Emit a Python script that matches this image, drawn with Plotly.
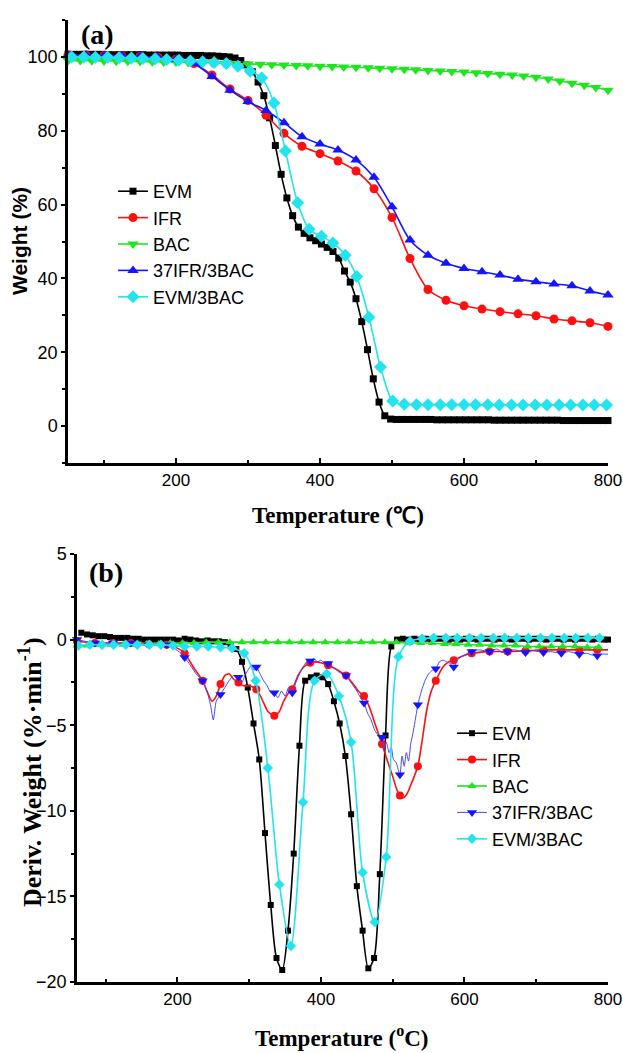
import plotly.graph_objects as go

# ---------------- (a) TGA: weight (%) vs temperature ----------------
evm_tga_T = [50, 58, 66, 74, 82, 90, 98, 106, 114, 122, 130, 138, 146, 154, 162, 170, 178, 186, 194,
             202, 210, 218, 226, 234, 242, 250, 258, 266, 274, 282, 290, 298, 306, 314, 322, 330, 338,
             346, 354, 362, 370, 378, 386, 394, 402, 410, 418, 426, 434, 442, 450, 458, 466, 474, 482,
             490, 498, 506, 514, 522, 530, 538, 546, 554, 562, 570, 578, 586, 594, 602, 610, 618, 626,
             634, 642, 650, 658, 666, 674, 682, 690, 698, 706, 714, 722, 730, 738, 746, 754, 762, 770,
             778, 786, 794, 800]
evm_tga_W = [100.7, 100.7, 100.7, 100.7, 100.7, 100.7, 100.7, 100.6, 100.6, 100.6, 100.6, 100.6, 100.6,
             100.6, 100.5, 100.5, 100.5, 100.5, 100.5, 100.5, 100.4, 100.4, 100.4, 100.4, 100.3, 100.3,
             100.2, 100.1, 100.0, 99.7, 99.0, 97.8, 96.0, 93.2, 89.5, 83.5, 76.0, 68.2, 61.8, 57.0, 53.9,
             52.2, 51.0, 50.2, 49.3, 48.4, 47.3, 45.5, 42.0, 39.0, 34.5, 28.3, 20.7, 12.8, 6.5, 2.8, 1.9,
             1.8, 1.8, 1.8, 1.8, 1.8, 1.8, 1.8, 1.7, 1.7, 1.7, 1.7, 1.7, 1.7, 1.7, 1.7, 1.7, 1.7, 1.6,
             1.6, 1.6, 1.6, 1.6, 1.6, 1.6, 1.6, 1.6, 1.6, 1.6, 1.6, 1.5, 1.5, 1.5, 1.5, 1.5, 1.5, 1.5,
             1.5, 1.5]

ifr_tga_T = [50, 75, 100, 125, 150, 175, 200, 225, 250, 275, 300, 325, 350, 375, 400, 425, 450, 475,
             500, 525, 550, 575, 600, 625, 650, 675, 700, 725, 750, 775, 800]
ifr_tga_W = [100.5, 100.5, 100.4, 100.3, 100.1, 99.9, 99.4, 98.2, 95.1, 91.3, 88.2, 84.2, 79.3, 75.8,
             73.8, 71.8, 69.1, 64.3, 56.5, 45.4, 37.0, 34.1, 32.6, 31.7, 31.0, 30.4, 29.9, 29.0, 28.5,
             28.0, 27.0]

bac_tga_T = [50, 67, 83, 100, 117, 133, 150, 167, 183, 200, 217, 233, 250, 267, 283, 300, 317, 333, 350,
             367, 383, 400, 417, 433, 450, 467, 483, 500, 517, 533, 550, 567, 583, 600, 617, 633, 650,
             667, 683, 700, 717, 733, 750, 767, 783, 800]
bac_tga_W = [99.0, 99.0, 98.95, 98.9, 98.85, 98.8, 98.75, 98.7, 98.65, 98.6, 98.5, 98.45, 98.4, 98.3,
             98.2, 98.1, 98.0, 97.9, 97.8, 97.7, 97.6, 97.5, 97.4, 97.3, 97.2, 97.05, 96.9, 96.8, 96.65,
             96.5, 96.35, 96.2, 96.05, 95.9, 95.7, 95.5, 95.3, 95.1, 94.85, 94.5, 94.0, 93.5, 92.9, 92.3,
             91.7, 91.0]

ifr37_tga_T = [50, 75, 100, 125, 150, 175, 200, 225, 250, 275, 300, 325, 350, 375, 400, 425, 450, 475,
               500, 525, 550, 575, 600, 625, 650, 675, 700, 725, 750, 775, 800]
ifr37_tga_W = [100.5, 100.5, 100.4, 100.3, 100.1, 99.9, 99.4, 98.2, 94.7, 91.0, 87.9, 85.5, 82.2, 78.4,
               76.4, 74.8, 72.1, 67.4, 59.4, 50.4, 46.3, 44.1, 42.7, 41.8, 40.9, 39.8, 39.1, 38.5, 38.0,
               36.6, 35.5]

evmbac_tga_T = [55, 72, 88, 105, 121, 138, 154, 171, 187, 204, 220, 237, 253, 270, 286, 303, 319, 336,
                352, 369, 385, 402, 418, 435, 451, 468, 484, 501, 517, 534, 550, 567, 583, 600, 616, 633,
                649, 666, 682, 699, 715, 732, 748, 765, 781, 798]
evmbac_tga_W = [100.0, 100.0, 99.9, 99.9, 99.8, 99.7, 99.6, 99.5, 99.3, 99.1, 98.9, 98.7, 98.5, 98.2,
                97.5, 96.1, 94.3, 87.5, 74.5, 60.5, 53.3, 51.4, 49.6, 46.3, 40.5, 29.5, 16.0, 6.8, 5.9,
                5.8, 5.8, 5.8, 5.8, 5.8, 5.8, 5.8, 5.7, 5.7, 5.7, 5.7, 5.7, 5.7, 5.7, 5.7, 5.7, 5.7]

# ---------------- (b) DTG: derivative weight (%/min) vs temperature ----------------
evm_dtg_T = [66, 74, 82, 90, 98, 106, 114, 122, 130, 138, 146, 154, 162, 170, 178, 186, 194, 202, 210,
             218, 226, 234, 242, 250, 258, 266, 274, 282, 290, 298, 306, 314, 322, 330, 338, 346, 354,
             362, 370, 378, 386, 394, 402, 410, 418, 426, 434, 442, 450, 458, 466, 474, 482, 490, 498,
             506, 514, 522, 530, 538, 546, 554, 562, 570, 578, 586, 594, 602, 610, 618, 626, 634, 642,
             650, 658, 666, 674, 682, 690, 698, 706, 714, 722, 730, 738, 746, 754, 762, 770, 778, 786,
             794, 800]
evm_dtg_D = [0.4, 0.3, 0.25, 0.2, 0.2, 0.15, 0.1, 0.1, 0.1, 0.05, 0.05, 0.0, 0.0, 0.0, 0.0, 0.0, 0.0,
             -0.05, 0.05, 0.0, -0.05, -0.1, -0.05, -0.1, -0.1, -0.15, -0.3, -0.55, -1.3, -2.8, -4.9,
             -7.0, -11.3, -15.5, -18.6, -19.3, -17.0, -12.5, -6.2, -2.4, -2.2, -2.1, -2.2, -2.6, -3.6,
             -4.9, -6.8, -10.2, -14.4, -17.0, -19.2, -18.6, -13.7, -5.6, -0.4, 0.0, 0.05, 0.0, 0.05,
             0.0, 0.05, 0.0, 0.05, 0.05, 0.0, 0.05, 0.0, 0.05, 0.05, 0.0, 0.05, 0.05, 0.0, 0.05, 0.05,
             0.0, 0.05, 0.05, 0.0, 0.05, 0.05, 0.0, 0.05, 0.05, 0.0, 0.05, 0.0, 0.05, 0.05, 0.0, 0.05,
             0.0, 0.0]

ifr_dtg_T = [60, 85, 110, 135, 160, 185, 200, 210, 222, 235, 242, 248, 254, 260, 266, 272, 278, 285,
             292, 300, 310, 318, 326, 335, 342, 348, 355, 360, 368, 376, 385, 392, 400, 410, 420, 428,
             435, 445, 452, 460, 468, 476, 485, 492, 500, 506, 510, 514, 520, 527, 535, 541, 547, 553,
             560, 570, 578, 585, 595, 610, 635, 660, 685, 710, 735, 760, 785, 800]
ifr_dtg_D = [-0.1, -0.2, -0.2, -0.2, -0.25, -0.3, -0.5, -0.8, -1.6, -2.4, -3.1, -3.6, -3.3, -2.6, -2.1,
             -2.0, -2.3, -2.5, -2.7, -2.7, -2.9, -3.5, -4.2, -4.45, -4.2, -3.6, -3.1, -2.9, -2.1, -1.6,
             -1.35, -1.3, -1.35, -1.5, -1.7, -1.9, -2.1, -2.6, -3.0, -3.3, -4.0, -5.0, -6.1, -7.0, -8.0,
             -8.8, -9.1, -9.25, -9.0, -8.3, -7.4, -5.9, -4.2, -3.1, -2.4, -1.6, -1.3, -1.2, -1.0, -0.8,
             -0.7, -0.7, -0.65, -0.6, -0.6, -0.6, -0.6, -0.6]
ifr_dtg_marks = [60, 85, 110, 135, 160, 185, 210, 235, 260, 285, 310, 335, 360, 385, 410, 435, 460,
                 485, 510, 535, 560, 585, 610, 635, 660, 685, 710, 735, 760, 785]

bac_dtg_T = [60, 74, 91, 107, 124, 140, 157, 174, 190, 207, 223, 240, 257, 273, 290, 306, 323, 340, 356,
             373, 389, 406, 423, 439, 456, 472, 489, 505, 522, 539, 555, 572, 588, 605, 621, 638, 655,
             671, 688, 704, 721, 737, 754, 771, 787]
bac_dtg_D = [-0.35, -0.35, -0.3, -0.3, -0.3, -0.3, -0.25, -0.25, -0.2, -0.2, -0.2, -0.15, -0.15, -0.15,
             -0.15, -0.15, -0.15, -0.15, -0.15, -0.15, -0.15, -0.15, -0.15, -0.15, -0.15, -0.15, -0.15,
             -0.15, -0.2, -0.2, -0.2, -0.25, -0.25, -0.3, -0.3, -0.35, -0.35, -0.35, -0.4, -0.4, -0.4,
             -0.4, -0.4, -0.45, -0.45]

ifr37_dtg_T = [60, 85, 110, 135, 160, 185, 195, 205, 210, 218, 226, 235, 241, 246, 250, 254, 260, 266,
               272, 278, 285, 290, 294, 298, 303, 307, 310, 315, 320, 325, 330, 335, 340, 345, 350,
               355, 360, 365, 370, 375, 380, 385, 390, 395, 400, 405, 410, 415, 420, 425, 430, 435,
               440, 445, 450, 455, 460, 465, 470, 475, 480, 485, 488, 491, 495, 498, 501, 505, 510,
               513, 516, 519, 522, 525, 528, 531, 535, 540, 545, 550, 555, 560, 565, 570, 575, 580,
               585, 590, 595, 600, 605, 610, 620, 635, 645, 652, 660, 670, 685, 695, 710, 720, 735,
               745, 760, 770, 778, 785, 792, 800]
ifr37_dtg_D = [0.0, -0.2, -0.2, -0.2, -0.3, -0.3, -0.5, -0.8, -1.05, -1.5, -2.0, -2.4, -3.0, -3.8, -4.7,
               -3.6, -3.2, -2.8, -2.4, -2.1, -2.2, -2.5, -2.1, -1.8, -1.5, -1.8, -1.6, -2.0, -2.4, -2.7,
               -3.1, -3.1, -3.4, -3.0, -3.3, -2.8, -3.1, -2.5, -2.0, -1.6, -1.3, -1.25, -1.1, -1.3, -1.2,
               -1.4, -1.4, -1.6, -1.7, -1.9, -2.0, -2.1, -2.4, -2.7, -3.0, -3.4, -3.7, -4.3, -4.7, -5.3,
               -5.6, -5.7, -6.4, -6.0, -6.6, -6.3, -7.0, -7.2, -7.9, -6.8, -7.4, -6.6, -7.1, -6.1, -5.5,
               -4.8, -3.8, -3.0, -2.4, -2.0, -1.8, -1.7, -1.3, -1.2, -1.3, -1.4, -1.6, -1.2, -1.0, -0.9,
               -0.8, -0.7, -0.6, -0.7, -0.55, -0.75, -0.7, -0.6, -0.75, -0.65, -0.75, -0.7, -0.8, -0.7,
               -0.85, -0.8, -0.9, -0.95, -0.85, -0.85]
ifr37_dtg_marks = [60, 85, 110, 135, 160, 185, 210, 235, 260, 285, 310, 335, 360, 385, 410, 435, 460,
                   485, 510, 535, 560, 585, 610, 635, 660, 685, 710, 735, 760, 785]

evmbac_dtg_T = [62, 78, 95, 111, 128, 144, 161, 177, 194, 210, 227, 243, 260, 276, 293, 309, 326, 342,
                358, 375, 391, 408, 425, 442, 458, 475, 491, 508, 524, 541, 557, 574, 590, 607, 623,
                640, 656, 673, 689, 706, 722, 739, 755, 772, 788]
evmbac_dtg_D = [-0.35, -0.3, -0.3, -0.3, -0.3, -0.3, -0.3, -0.3, -0.35, -0.4, -0.4, -0.4, -0.45, -0.5,
                -0.8, -2.4, -7.5, -14.3, -17.9, -9.5, -2.4, -2.0, -3.3, -6.0, -13.6, -16.5, -12.7, -1.0,
                -0.1, 0.05, 0.1, 0.1, 0.1, 0.1, 0.1, 0.1, 0.1, 0.1, 0.1, 0.1, 0.1, 0.1, 0.1, 0.1, 0.1]

names = ["EVM", "IFR", "BAC", "37IFR/3BAC", "EVM/3BAC"]
colors = ["#000000", "#FF1010", "#1EE61E", "#1414FF", "#22E3EE"]

SANS = "Liberation Sans, Arial, sans-serif"
SERIF = "Liberation Serif, Times New Roman, serif"

fig = go.Figure()


def add_series(T, V, name, color, symbol, msize, xa, ya, legend, width=1.6,
               marks=None, line_color=None, line_width=None):
    """Smooth line through the samples; markers on every sample or only on `marks`."""
    if marks is None:
        fig.add_trace(go.Scatter(
            x=T, y=V, name=name, mode="lines+markers", xaxis=xa, yaxis=ya, legend=legend,
            line=dict(color=color, width=width, shape="spline", smoothing=0.8),
            marker=dict(symbol=symbol, size=msize, color=color, line=dict(width=0)),
            cliponaxis=False))
        return
    lookup = dict(zip(T, V))
    fig.add_trace(go.Scatter(
        x=T, y=V, mode="lines", xaxis=xa, yaxis=ya, showlegend=False, hoverinfo="skip",
        line=dict(color=line_color or color, width=line_width or width, shape="spline", smoothing=0.6)))
    fig.add_trace(go.Scatter(
        x=marks, y=[lookup[t] for t in marks], mode="markers", xaxis=xa, yaxis=ya, showlegend=False,
        marker=dict(symbol=symbol, size=msize, color=color, line=dict(width=0)), cliponaxis=False))
    # legend entry for the pair
    fig.add_trace(go.Scatter(
        x=[None], y=[None], name=name, mode="lines+markers", xaxis=xa, yaxis=ya, legend=legend,
        line=dict(color=line_color or color, width=line_width or width),
        marker=dict(symbol=symbol, size=msize, color=color)))


# panel (a)
add_series(evm_tga_T, evm_tga_W, names[0], colors[0], "square", 7, "x", "y", "legend")
add_series(ifr_tga_T, ifr_tga_W, names[1], colors[1], "circle", 9, "x", "y", "legend")
add_series(bac_tga_T, bac_tga_W, names[2], colors[2], "triangle-down", 10, "x", "y", "legend")
add_series(ifr37_tga_T, ifr37_tga_W, names[3], colors[3], "triangle-up", 10, "x", "y", "legend")
add_series(evmbac_tga_T, evmbac_tga_W, names[4], colors[4], "diamond", 10, "x", "y", "legend")

# panel (b)
add_series(evm_dtg_T, evm_dtg_D, names[0], colors[0], "square", 6, "x2", "y2", "legend2")
add_series(ifr_dtg_T, ifr_dtg_D, names[1], colors[1], "circle", 8, "x2", "y2", "legend2",
           marks=ifr_dtg_marks)
add_series(bac_dtg_T, bac_dtg_D, names[2], colors[2], "triangle-up", 8, "x2", "y2", "legend2")
add_series(ifr37_dtg_T, ifr37_dtg_D, names[3], colors[3], "triangle-down", 9, "x2", "y2", "legend2",
           marks=ifr37_dtg_marks, line_color="#4646FF", line_width=1)
add_series(evmbac_dtg_T, evmbac_dtg_D, names[4], colors[4], "diamond", 8, "x2", "y2", "legend2")

W, H = 623, 1053


def px_x(p):
    return p / W


def px_y(p):
    return 1 - p / H


axis_common = dict(showline=True, linecolor="black", linewidth=2.5, showgrid=False, zeroline=False,
                   mirror=False, automargin=False)
xfont = dict(family=SANS, size=17, color="black")
yfont = dict(family=SANS, size=18, color="black")

fig.update_layout(
    width=W, height=H, margin=dict(l=0, r=0, t=0, b=0, autoexpand=False),
    paper_bgcolor="white", plot_bgcolor="white",
    xaxis=dict(domain=[px_x(68), px_x(608)], range=[50, 800], anchor="y", tickfont=xfont,
               tickvals=[200, 400, 600, 800], ticks="inside", ticklen=5, tickwidth=2,
               tickcolor="black", minor=dict(tickvals=[100, 300, 500, 700], ticks="inside",
                                             ticklen=3, tickwidth=2, tickcolor="black"),
               **axis_common),
    yaxis=dict(domain=[px_y(463), px_y(20)], range=[-10, 110], anchor="x", tickfont=yfont,
               tickvals=[0, 20, 40, 60, 80, 100], ticks="outside", ticklen=4, tickwidth=2,
               tickcolor="black", minor=dict(tickvals=[-10, 10, 30, 50, 70, 90, 110], ticks="outside",
                                             ticklen=3, tickwidth=2, tickcolor="black"),
               **axis_common),
    xaxis2=dict(domain=[px_x(77), px_x(608)], range=[60, 800], anchor="y2", tickfont=xfont,
                tickvals=[200, 400, 600, 800], ticks="inside", ticklen=5, tickwidth=2,
                tickcolor="black", minor=dict(tickvals=[100, 300, 500, 700], ticks="inside",
                                              ticklen=3, tickwidth=2, tickcolor="black"),
                **axis_common),
    yaxis2=dict(domain=[px_y(982), px_y(554)], range=[-20, 5], anchor="x2", tickfont=yfont,
                tickvals=[-20, -15, -10, -5, 0, 5], ticks="outside", ticklen=4, tickwidth=2,
                tickcolor="black", minor=dict(tickvals=[-17.5, -12.5, -7.5, -2.5, 2.5], ticks="outside",
                                              ticklen=3, tickwidth=2, tickcolor="black"),
                **axis_common),
    legend=dict(x=px_x(113), y=px_y(173), xanchor="left", yanchor="top", bgcolor="rgba(0,0,0,0)",
                font=dict(family=SANS, size=18, color="black"), tracegroupgap=0, itemsizing="trace"),
    legend2=dict(x=px_x(452), y=px_y(715), xanchor="left", yanchor="top", bgcolor="rgba(0,0,0,0)",
                 font=dict(family=SANS, size=18, color="black"), tracegroupgap=0, itemsizing="trace"),
    showlegend=True,
)

annotations = [
    dict(text="<b>(a)</b>", x=px_x(97), y=px_y(34), font=dict(family=SERIF, size=28, color="black")),
    dict(text="<b>(b)</b>", x=px_x(106), y=px_y(572), font=dict(family=SERIF, size=28, color="black")),
    dict(text="<b>Temperature (℃)</b>", x=px_x(338), y=px_y(515),
         font=dict(family=SERIF, size=23, color="black")),
    dict(text="<b>Temperature (<sup>o</sup>C)</b>", x=px_x(342), y=px_y(1036),
         font=dict(family=SERIF, size=23, color="black")),
    dict(text="<b>Weight (%)</b>", x=px_x(19), y=px_y(241), textangle=-90,
         font=dict(family=SANS, size=21, color="black")),
    dict(text="<b>Deriv. Weight (%·min<sup>-1</sup>)</b>", x=px_x(30), y=px_y(772), textangle=-90,
         font=dict(family=SERIF, size=26, color="black")),
]
for a in annotations:
    a.update(xref="paper", yref="paper", showarrow=False, xanchor="center", yanchor="middle")
fig.update_layout(annotations=annotations)

fig.write_html("out.html")
